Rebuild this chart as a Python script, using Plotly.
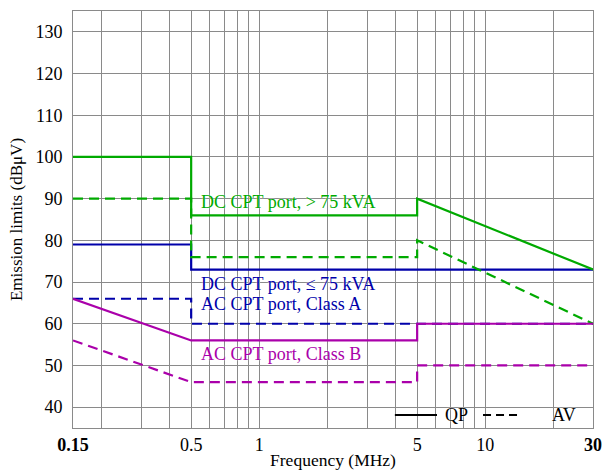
import math
import plotly.graph_objects as go

# ---- data ----
green_qp_f = [0.15, 0.5, 0.5, 5, 5, 30]
green_qp_v = [100, 100, 86, 86, 90, 73]
green_av_f = [0.15, 0.5, 0.5, 5, 5, 30]
green_av_v = [90, 90, 76, 76, 80, 60]

blue_qp_f = [0.15, 0.5, 0.5, 30]
blue_qp_v = [79, 79, 73, 73]
blue_av_f = [0.15, 0.5, 0.5, 30]
blue_av_v = [66, 66, 60, 60]

mag_qp_f = [0.15, 0.5, 5, 5, 30]
mag_qp_v = [66, 56, 56, 60, 60]
mag_av_f = [0.15, 0.5, 5, 5, 30]
mag_av_v = [56, 46, 46, 50, 50]

grid_vals = [0.15, 0.2, 0.3, 0.4, 0.5, 0.6, 0.7, 0.8, 0.9, 1, 2, 3, 4, 5, 6, 7, 8, 9, 10, 20, 30]
tick_labels = {0.15: "<b>0.15</b>", 0.5: "0.5", 1: "1", 5: "5", 10: "10", 30: "<b>30</b>"}
y_ticks = [40, 50, 60, 70, 80, 90, 100, 110, 120, 130]

label_texts = ["DC CPT port, > 75 kVA", "DC CPT port, ≤ 75 kVA",
               "AC CPT port, Class A", "AC CPT port, Class B"]
label_freq = [0.54, 0.54, 0.54, 0.54]
label_level = [89.3, 69.6, 64.8, 52.8]
label_colors = ["#00AA00", "#0000AA", "#0000AA", "#AA00AA"]

legend_names = ["QP", "AV"]

GREEN = "#00AA00"
BLUE = "#0000AA"
MAG = "#AA00AA"
DASH = "10px,6px"
FONT = "Liberation Serif"

fig = go.Figure()

def add(x, y, color, dash):
    fig.add_trace(go.Scatter(x=x, y=y, mode="lines", showlegend=False,
                             line=dict(color=color, width=2.2, dash=dash),
                             hoverinfo="skip"))

add(blue_av_f, blue_av_v, BLUE, DASH)
add(blue_qp_f, blue_qp_v, BLUE, "solid")
add(green_av_f, green_av_v, GREEN, DASH)
add(green_qp_f, green_qp_v, GREEN, "solid")
add(mag_av_f, mag_av_v, MAG, DASH)
add(mag_qp_f, mag_qp_v, MAG, "solid")

for text, f, v, c in zip(label_texts, label_freq, label_level, label_colors):
    fig.add_annotation(x=math.log10(f), y=v, xref="x", yref="y", text=text, showarrow=False,
                       xanchor="left", yanchor="middle",
                       font=dict(family=FONT, size=18, color=c,
                                 shadow="0px 0px 2px white"))

# manual legend (key lines + labels)
leg_y = 0.031
fig.add_shape(type="line", xref="x domain", yref="y domain",
              x0=0.619, x1=0.700, y0=leg_y, y1=leg_y,
              line=dict(color="black", width=2))
fig.add_shape(type="line", xref="x domain", yref="y domain",
              x0=0.7885, x1=0.8558, y0=leg_y, y1=leg_y,
              line=dict(color="black", width=2, dash="8px,5px"))
for name, lx in zip(legend_names, [0.712, 0.918]):
    fig.add_annotation(x=lx, y=leg_y, xref="x domain", yref="y domain", text=name,
                       showarrow=False, xanchor="left", yanchor="middle",
                       font=dict(family=FONT, size=18, color="black",
                                 shadow="0px 0px 2px white"))

fig.update_xaxes(
    type="log", range=[math.log10(0.15), math.log10(30)],
    tickvals=grid_vals,
    ticktext=[tick_labels.get(v, "") for v in grid_vals],
    showgrid=True, gridcolor="#8a8a8a", gridwidth=1,
    showline=True, linecolor="#8a8a8a", linewidth=1, mirror=True,
    ticks="", tickfont=dict(family=FONT, size=18, color="black"),
    title=dict(text="Frequency (MHz)", font=dict(family=FONT, size=17.5, color="black"),
               standoff=5),
    zeroline=False, automargin=False,
)
fig.update_yaxes(
    range=[35, 135], tickvals=y_ticks,
    showgrid=True, gridcolor="#8a8a8a", gridwidth=1,
    showline=True, linecolor="#8a8a8a", linewidth=1, mirror=True,
    ticks="", tickfont=dict(family=FONT, size=18, color="black"),
    ticklabelstandoff=6,
    title=dict(text="Emission limits (dBμV)", font=dict(family=FONT, size=17, color="black"),
               standoff=8),
    zeroline=False, automargin=False,
)

fig.update_layout(
    width=603, height=470,
    font=dict(family=FONT, size=18, color="black"),
    margin=dict(l=73, r=10, t=11, b=42, autoexpand=False),
    paper_bgcolor="white", plot_bgcolor="white",
    showlegend=False,
)

fig.write_html("out.html", config={"displayModeBar": False},
               post_script="document.body.style.margin='0px';document.body.style.overflow='hidden';")
